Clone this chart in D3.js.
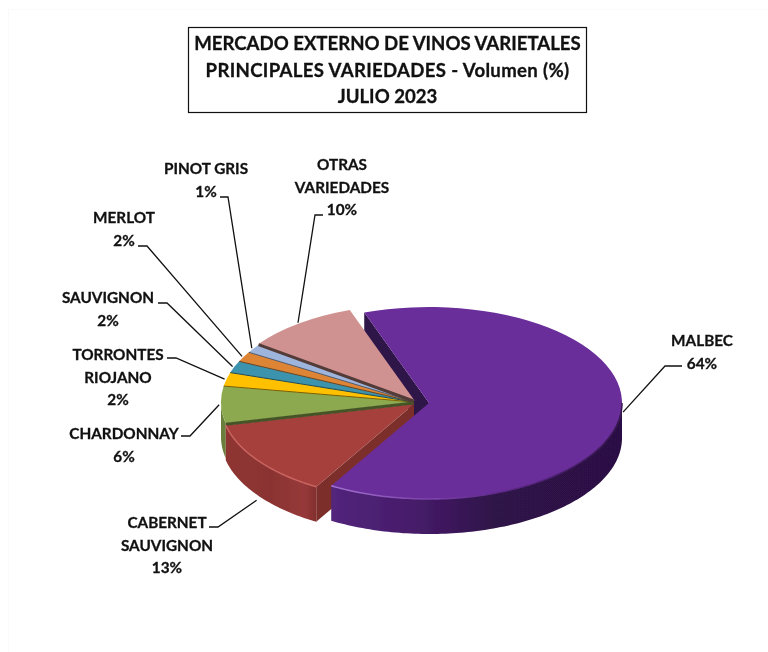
<!DOCTYPE html>
<html>
<head>
<meta charset="utf-8">
<script src="https://cdn.jsdelivr.net/npm/d3@7"></script>
<style>
  html, body { margin: 0; padding: 0; background: #fff; }
  text { font-family: Lato, "Open Sans", sans-serif; font-weight: 700; fill: #111; stroke: #111; stroke-width: 0.3; }
</style>
</head>
<body>
<div id="container"></div>
<script>
var w = 768,
    h = 652;

var varieties = ['MALBEC', 'CABERNET SAUVIGNON', 'CHARDONNAY', 'TORRONTES RIOJANO', 'SAUVIGNON', 'MERLOT', 'PINOT GRIS', 'OTRAS VARIEDADES'];
var volumes = [63.9, 13, 6.2, 2.3, 2, 1.7, 1.4, 9.5];
var colors = ['#6b2d9b', '#a5403d', '#8ca94f', '#ffc000', '#3a93ae', '#de8536', '#9db4dc', '#d09291'];
var titleLines = ['MERCADO EXTERNO DE VINOS VARIETALES', 'PRINCIPALES VARIEDADES - Volumen (%)', 'JULIO 2023'];

// label text broken the way the picture breaks it
var labelLines = [['MALBEC'], ['CABERNET', 'SAUVIGNON'], ['CHARDONNAY'], ['TORRONTES', 'RIOJANO'], ['SAUVIGNON'], ['MERLOT'], ['PINOT GRIS'], ['OTRAS', 'VARIEDADES']];
// where each label block sits and where its leader starts
var labelLayout = [
    { x: 702, y: 341, sx: 682, sy: 366, kx: 665 },
    { x: 167, y: 523, sx: 209, sy: 527, kx: 218 },
    { x: 124, y: 434, sx: 181, sy: 436, kx: 190 },
    { x: 118, y: 355, sx: 167, sy: 358, kx: 176 },
    { x: 108, y: 298, sx: 158, sy: 303, kx: 167 },
    { x: 124, y: 218, sx: 138, sy: 246, kx: 147 },
    { x: 206, y: 169, sx: 220, sy: 197, kx: 228 },
    { x: 342, y: 165, sx: 323, sy: 215, kx: 315 }
];

var cx = 414, cy = 402,
    rx = 193, ry = 96,
    depth = 35;

// slices pulled out of the pie
var offsets = {
    0: { x: 15, y: 1 },
    1: { x: 0, y: 2 },
    7: { x: 0.5, y: -1.5 }
};

var startAngle = -19.6 * Math.PI / 180;

var svg = d3.select('#container')
    .append('svg')
    .attr('width', w)
    .attr('height', h);

var defs = svg.append('defs');

defs.append('filter').attr('id', 'soft')
    .append('feGaussianBlur').attr('stdDeviation', 0.5);

// gradient x values are local to the slice group, which sits on the pie centre
function hGradient(id, x1, x2, stops) {
    var g = defs.append('linearGradient').attr('id', id)
        .attr('gradientUnits', 'userSpaceOnUse')
        .attr('x1', x1).attr('x2', x2).attr('y1', 0).attr('y2', 0);
    stops.forEach(function(s) {
        g.append('stop').attr('offset', s[0]).attr('stop-color', s[1]);
    });
}
hGradient('malbecWall', -96, 193, [[0, '#52257c'], [0.3, '#451b68'], [0.55, '#2f1249'], [1, '#2c1145']]);
hGradient('malbecRim', -96, 193, [[0, '#a173cf'], [0.3, '#7f45ad'], [0.6, '#5a2785'], [1, '#35164f']]);
hGradient('cabernetWall', -192, -95, [[0, '#8f3633'], [0.5, '#8a3331'], [0.85, '#96393a'], [1, '#7e2c2a']]);

var pie = d3.pie().sort(null).startAngle(startAngle).endAngle(startAngle + 2 * Math.PI);
var slices = pie(volumes);

var arc = d3.arc().innerRadius(0).outerRadius(rx);
var ySquash = ry / rx;

// point on the rim, angle measured clockwise from the top like d3.arc
function rim(a, r) {
    r = r === undefined ? 1 : r;
    return [rx * r * Math.sin(a), -ry * r * Math.cos(a)];
}

function rimPoints(a0, a1) {
    var n = Math.max(2, Math.ceil((a1 - a0) / 0.02));
    return d3.range(n + 1).map(function(i) {
        return rim(a0 + (a1 - a0) * i / n);
    });
}

// outer wall is only visible on the front half of the ellipse
function wallPath(d) {
    var a0 = Math.max(d.startAngle, Math.PI / 2),
        a1 = Math.min(d.endAngle, 3 * Math.PI / 2);
    if (a1 <= a0) return null;
    var pts = rimPoints(a0, a1);
    var low = pts.slice().reverse().map(function(p) { return [p[0], p[1] + depth]; });
    return d3.line()(pts.concat(low)) + 'Z';
}

function facePath(a) {
    var p = rim(a);
    return d3.line()([[0, 0], p, [p[0], p[1] + depth], [0, depth]]) + 'Z';
}

function offsetOf(i) {
    return offsets[i] || { x: 0, y: 0 };
}

function sliceGroup(parent, d) {
    var e = offsetOf(d.index);
    return parent.append('g').attr('transform', 'translate(' + (cx + e.x) + ',' + (cy + e.y) + ')');
}

// very faint frame of the original chart area, only top and left show
svg.append('path')
    .attr('d', d3.line()([[8.5, h], [8.5, 9.5], [w, 9.5]]))
    .attr('fill', 'none')
    .attr('stroke', '#fafafa');

var pieGroup = svg.append('g').attr('filter', 'url(#soft)');

// painter's order: back face of malbec, cut face of cabernet, rest of the pie, malbec on top
var malbec = slices[0];

sliceGroup(pieGroup, malbec).append('path')
    .attr('d', facePath(malbec.startAngle))
    .attr('fill', '#2f1249');

var rest = slices.slice(1);

sliceGroup(pieGroup, rest[0]).append('path')
    .attr('d', facePath(rest[0].startAngle))
    .attr('fill', '#7c2f2c');

rest.slice().reverse().forEach(function(d) {
    var wall = wallPath(d);
    if (!wall) return;
    sliceGroup(pieGroup, d).append('path')
        .attr('d', wall)
        .attr('fill', d.index === 1 ? 'url(#cabernetWall)' : d3.color(colors[d.index]).darker(0.8));
});

rest.slice().reverse().forEach(function(d) {
    var g = sliceGroup(pieGroup, d);
    g.append('path')
        .attr('d', arc(d))
        .attr('transform', 'scale(1,' + ySquash + ')')
        .attr('fill', colors[d.index]);
});

// dark seams between the small slices, wider where a slice is pulled out,
// drawn half way between the two neighbours so they close the gap
rest.slice(1).forEach(function(d) {
    var a = offsetOf(d.index),
        b = offsetOf(d.index - 1),
        wide = d.index === 2 || d.index === 7;
    pieGroup.append('path')
        .attr('transform', 'translate(' + (cx + (a.x + b.x) / 2) + ',' + (cy + (a.y + b.y) / 2) + ')')
        .attr('d', d3.line()([[0, 0], rim(d.startAngle)]))
        .attr('fill', 'none')
        .attr('stroke', d3.color(colors[d.index]).darker(d.index === 7 ? 2.6 : 2))
        .attr('stroke-width', wide ? 3 : 1);
});

// light rim on cabernet
sliceGroup(pieGroup, rest[0]).append('path')
    .attr('d', d3.line()(rimPoints(rest[0].startAngle, rest[0].endAngle)))
    .attr('fill', 'none')
    .attr('stroke', '#c9635e')
    .attr('stroke-width', 1.5);

var mg = sliceGroup(pieGroup, malbec);
mg.append('path')
    .attr('d', wallPath(malbec))
    .attr('fill', 'url(#malbecWall)');
mg.append('path')
    .attr('d', arc(malbec))
    .attr('transform', 'scale(1,' + ySquash + ')')
    .attr('fill', colors[0]);
mg.append('path')
    .attr('d', d3.line()(rimPoints(Math.PI / 2, malbec.endAngle)))
    .attr('fill', 'none')
    .attr('stroke', 'url(#malbecRim)')
    .attr('stroke-width', 1.5);

// leaders
slices.forEach(function(d, i) {
    var mid = (d.startAngle + d.endAngle) / 2,
        p = rim(mid, 1.01),
        e = offsetOf(i),
        front = Math.cos(mid) < -0.3 ? depth + 4 : 0,
        l = labelLayout[i];
    svg.append('path')
        .attr('d', d3.line()([[l.sx, l.sy], [l.kx, l.sy], [cx + e.x + p[0], cy + e.y + p[1] + front]]))
        .attr('fill', 'none')
        .attr('stroke', '#111')
        .attr('stroke-width', 1.3);
});

// labels
var lineGap = 22.5;
slices.forEach(function(d, i) {
    var l = labelLayout[i];
    var lines = labelLines[i].concat([d3.format('.0f')(d.value) + '%']);
    var t = svg.append('text')
        .attr('text-anchor', 'middle')
        .attr('font-size', 15.3);
    lines.forEach(function(s, j) {
        t.append('tspan')
            .attr('x', l.x)
            .attr('y', l.y + 5 + j * lineGap)
            .text(s);
    });
});

// title box
svg.append('rect')
    .attr('x', 188.5).attr('y', 27.5)
    .attr('width', 398).attr('height', 85)
    .attr('fill', '#fff')
    .attr('stroke', '#111')
    .attr('stroke-width', 1.2);

svg.selectAll('.title').data(titleLines).enter()
    .append('text')
    .attr('class', 'title')
    .attr('x', 387.5)
    .attr('y', function(d, i) { return 50 + i * 26.5; })
    .attr('text-anchor', 'middle')
    .attr('font-size', 18.6)
    .attr('letter-spacing', function(d, i) { return i === 1 ? 0.33 : 0; })
    .text(function(d) { return d; });
</script>
</body>
</html>
